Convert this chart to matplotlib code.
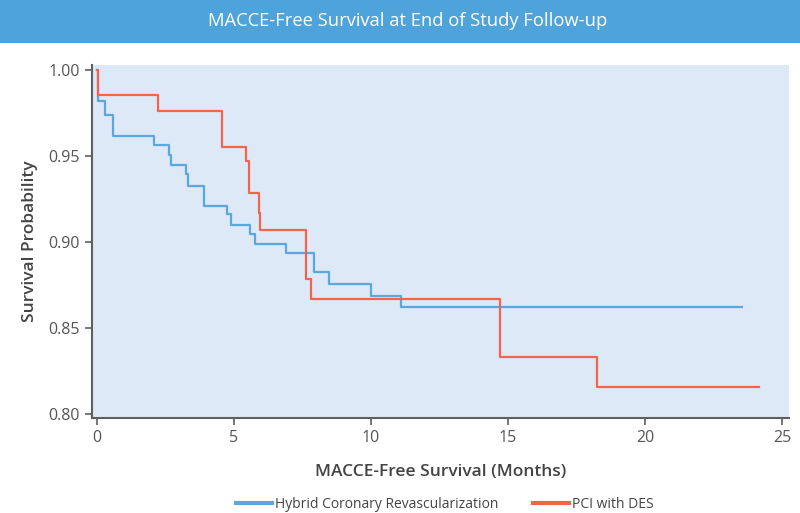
import matplotlib
matplotlib.use("Agg")
import matplotlib.pyplot as plt
from matplotlib.patches import Rectangle
from matplotlib.lines import Line2D

plt.rcParams['font.family'] = ['Open Sans', 'DejaVu Sans']

# Data
hybrid_times = [0, 0.05, 0.29, 0.59, 2.08, 2.64, 2.72, 3.26, 3.34, 3.92, 4.73, 4.90,
                5.60, 5.75, 6.91, 7.91, 8.48, 9.99, 11.08, 23.52]
hybrid_surv = [1.0, 0.982, 0.9742, 0.9618, 0.9564, 0.9506, 0.9446, 0.9395, 0.9327,
               0.9211, 0.9161, 0.9097, 0.9047, 0.8990, 0.8938, 0.8826, 0.8756, 0.8686,
               0.8622, 0.8622]
pci_times = [0, 0.05, 2.23, 4.58, 5.43, 5.54, 5.90, 5.94, 7.62, 7.80, 14.71, 18.23, 24.16]
pci_surv = [1.0, 0.9856, 0.9763, 0.9556, 0.9473, 0.9285, 0.9167, 0.9071, 0.8785, 0.8669,
            0.8333, 0.8155, 0.8155]
series_labels = ["Hybrid Coronary Revascularization", "PCI with DES"]
x_ticks = [0, 5, 10, 15, 20, 25]
y_ticks = [0.80, 0.85, 0.90, 0.95, 1.00]
y_tick_labels = ["0.80", "0.85", "0.90", "0.95", "1.00"]

title = "MACCE-Free Survival at End of Study Follow-up"
xlabel = "MACCE-Free Survival (Months)"
ylabel = "Survival Probability"

blue = "#5AA8DE"
red = "#F2644C"
gray = "#5f5f5f"

fig = plt.figure(figsize=(8, 5.13), dpi=100)

# Title banner
fig.patches.append(Rectangle((0, 1 - 43 / 513), 1, 43 / 513, transform=fig.transFigure,
                             facecolor="#4FA3DB", edgecolor="none", zorder=0))
fig.text(0.51, 1 - 21 / 513, title, color="white", fontsize=13.2, ha="center", va="center")

ax = fig.add_axes([92 / 800, 1 - 418 / 513, (789 - 92) / 800, (418 - 65) / 513])
ax.set_facecolor("#DDE9F6")

ax.step(hybrid_times, hybrid_surv, where="post", color=blue, lw=1.6, label=series_labels[0])
ax.step(pci_times, pci_surv, where="post", color=red, lw=1.6, label=series_labels[1])

ax.set_xlim(-0.18, 25.25)
ax.set_ylim(0.7977, 1.003)
ax.set_xticks(x_ticks)
ax.set_yticks(y_ticks)
ax.set_yticklabels(y_tick_labels)

for s in ["top", "right"]:
    ax.spines[s].set_visible(False)
for s in ["left", "bottom"]:
    ax.spines[s].set_color(gray)
    ax.spines[s].set_linewidth(1.5)
ax.tick_params(axis="both", colors=gray, length=5, width=1.2, labelsize=11.5,
               labelcolor="#555555")

ax.set_xlabel(xlabel, fontsize=12.5, fontweight="semibold", color="#444444", labelpad=13)
ax.set_ylabel(ylabel, fontsize=12.5, fontweight="semibold", color="#444444", labelpad=8)

handles = [Line2D([0], [0], color=blue, lw=3), Line2D([0], [0], color=red, lw=3)]
fig.legend(handles, series_labels, loc="center", bbox_to_anchor=(0.556, 0.016), ncol=2,
           frameon=False, fontsize=10, handlelength=2.6, handletextpad=0.2,
           columnspacing=2.5, labelcolor="#444444")

fig.savefig("out.png", dpi=100)
